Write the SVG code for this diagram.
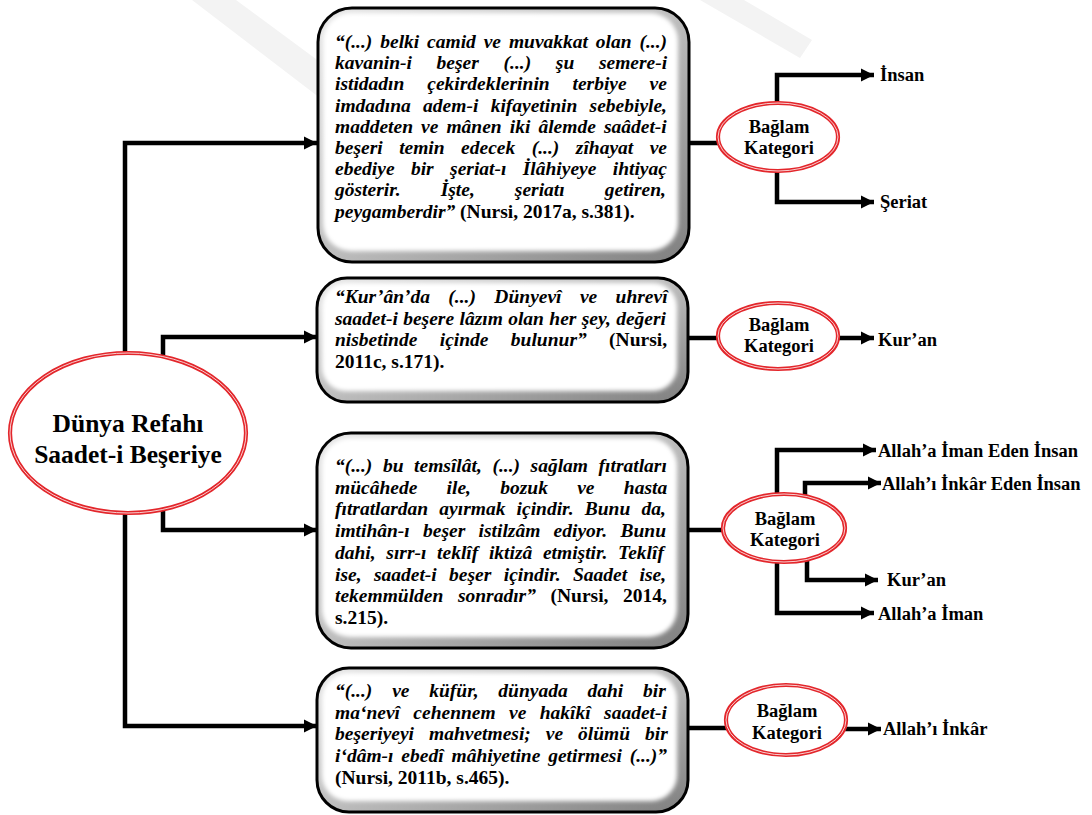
<svg xmlns="http://www.w3.org/2000/svg" width="1092" height="815" viewBox="0 0 1092 815">
  <defs>
    <style>
      .quote { font-family: "Liberation Serif", "Times New Roman", serif; font-size: 19.5px; font-weight: bold; fill: #000; }
      .it { font-style: italic; }
      .lbl { font-family: "Liberation Serif", "Times New Roman", serif; font-size: 18.5px; font-weight: bold; fill: #000; }
      .title { font-family: "Liberation Serif", "Times New Roman", serif; font-size: 25.5px; font-weight: bold; fill: #000; }
      .frame { fill: url(#bevel); stroke: #000; stroke-width: 3; }
      .face { fill: #fff; filter: url(#soft); }
      .ring { fill: #fff; stroke: #e3262b; stroke-width: 4.2; }
      .ring-gap { fill: none; stroke: #fbe3e3; stroke-width: 0.9; }
      .wire { fill: none; stroke: #000; stroke-width: 4.5; }
      .arrow { marker-end: url(#head); }
      .mark { fill: #f3f3f3; }
    </style>
    <linearGradient id="bevel" x1="0" y1="0" x2="1" y2="1">
      <stop offset="0" stop-color="#e8e8e8"/>
      <stop offset="0.5" stop-color="#bdbdbd"/>
      <stop offset="1" stop-color="#7f7f7f"/>
    </linearGradient>
    <filter id="soft" x="-5%" y="-5%" width="110%" height="110%">
      <feGaussianBlur stdDeviation="2.2"/>
    </filter>
    <marker id="head" markerUnits="userSpaceOnUse" markerWidth="14" markerHeight="14" viewBox="0 0 14 14" refX="13" refY="7" orient="auto">
      <path d="M0,0.5 L13,7 L0,13.5 Z" fill="#000"/>
    </marker>
  </defs>

  <rect width="1092" height="815" fill="#fff"/>

  <!-- faint background watermark bands -->
  <g id="watermark">
    <polygon class="mark" points="192,0 236,0 320,62 320,98"/>
    <polygon class="mark" points="700,0 744,0 812,40 800,58"/>
  </g>

  <!-- connectors -->
  <g id="connectors">
    <path class="wire arrow" d="M125,352 V143 H317"/>
    <path class="wire arrow" d="M125,514 V726 H317"/>
    <path class="wire arrow" d="M163,357 V337 H317"/>
    <path class="wire arrow" d="M163,509 V530 H317"/>

    <path class="wire" d="M688,143 H718"/>
    <path class="wire" d="M687,338 H719"/>
    <path class="wire" d="M687,530 H724"/>
    <path class="wire" d="M687,728 H727"/>

    <path class="wire arrow" d="M777,103 V75 H874"/>
    <path class="wire arrow" d="M777,171 V202 H874"/>

    <path class="wire arrow" d="M838,338 H874"/>

    <path class="wire arrow" d="M777,495 V450 H876"/>
    <path class="wire arrow" d="M805,497 V483 H881"/>
    <path class="wire arrow" d="M807,561 V580 H878"/>
    <path class="wire arrow" d="M777,563 V613 H874"/>

    <path class="wire arrow" d="M845,729 H881"/>
  </g>

  <!-- central node -->
  <g id="node-center">
    <ellipse class="ring" cx="128" cy="433" rx="118" ry="80"/>
    <ellipse class="ring-gap" cx="128" cy="433" rx="118" ry="80"/>
    <text class="title" x="128" y="432" text-anchor="middle">Dünya Refahı</text>
    <text class="title" x="128" y="463" text-anchor="middle">Saadet-i Beşeriye</text>
  </g>

  <!-- quotation boxes -->
  <g id="box-1">
    <rect class="frame" x="318" y="8" width="371" height="254" rx="34"/>
    <rect class="face" x="323" y="13" width="355" height="238" rx="28"/>
    <text class="quote it" x="335" y="48" style="word-spacing:3px">“(...) belki camid ve muvakkat olan (...)</text>
    <text class="quote it" x="335" y="69.2" style="word-spacing:19.8px">kavanin-i beşer (...) şu semere-i</text>
    <text class="quote it" x="335" y="90.4" style="word-spacing:18px">istidadın çekirdeklerinin terbiye ve</text>
    <text class="quote it" x="335" y="111.6" style="word-spacing:7.4px">imdadına adem-i kifayetinin sebebiyle,</text>
    <text class="quote it" x="335" y="132.8" style="word-spacing:3.2px">maddeten ve mânen iki âlemde saâdet-i</text>
    <text class="quote it" x="335" y="154" style="word-spacing:11.6px">beşeri temin edecek (...) zîhayat ve</text>
    <text class="quote it" x="335" y="175.2" style="word-spacing:11.5px">ebediye bir şeriat-ı İlâhiyeye ihtiyaç</text>
    <text class="quote it" x="335" y="196.4" style="word-spacing:35.2px">gösterir. İşte, şeriatı getiren,</text>
    <text class="quote" x="335" y="217.6"><tspan class="it">peygamberdir”</tspan> (Nursi, 2017a, s.381).</text>
  </g>

  <g id="box-2">
    <rect class="frame" x="317" y="278" width="371" height="124" rx="30"/>
    <rect class="face" x="322" y="283" width="355" height="108" rx="24"/>
    <text class="quote it" x="335" y="303" style="word-spacing:13.5px">“Kur’ân’da (...) Dünyevî ve uhrevî</text>
    <text class="quote it" x="335" y="324.7" style="word-spacing:0.5px">saadet-i beşere lâzım olan her şey, değeri</text>
    <text class="quote" x="335" y="346.4" style="word-spacing:17.5px"><tspan class="it">nisbetinde içinde bulunur”</tspan> (Nursi,</text>
    <text class="quote" x="335" y="368">2011c, s.171).</text>
  </g>

  <g id="box-3">
    <rect class="frame" x="317" y="433" width="371" height="215" rx="34"/>
    <rect class="face" x="322" y="438" width="355" height="199" rx="28"/>
    <text class="quote it" x="335" y="472" style="word-spacing:5.7px">“(...) bu temsîlât, (...) sağlam fıtratları</text>
    <text class="quote it" x="335" y="493.7" style="word-spacing:24.4px">mücâhede ile, bozuk ve hasta</text>
    <text class="quote it" x="335" y="515.4" style="word-spacing:6.3px">fıtratlardan ayırmak içindir. Bunu da,</text>
    <text class="quote it" x="335" y="537.1" style="word-spacing:8.4px">imtihân-ı beşer istilzâm ediyor. Bunu</text>
    <text class="quote it" x="335" y="558.8" style="word-spacing:5.8px">dahi, sırr-ı teklîf iktizâ etmiştir. Teklîf</text>
    <text class="quote it" x="335" y="580.5" style="word-spacing:7.5px">ise, saadet-i beşer içindir. Saadet ise,</text>
    <text class="quote" x="335" y="602.2" style="word-spacing:9.7px"><tspan class="it">tekemmülden sonradır”</tspan> (Nursi, 2014,</text>
    <text class="quote" x="335" y="624">s.215).</text>
  </g>

  <g id="box-4">
    <rect class="frame" x="317" y="668" width="371" height="144" rx="32"/>
    <rect class="face" x="322" y="673" width="355" height="128" rx="26"/>
    <text class="quote it" x="335" y="697" style="word-spacing:14.9px">“(...) ve küfür, dünyada dahi bir</text>
    <text class="quote it" x="335" y="718.7" style="word-spacing:8.5px">ma‘nevî cehennem ve hakîkî saadet-i</text>
    <text class="quote it" x="335" y="740.4" style="word-spacing:10.1px">beşeriyeyi mahvetmesi; ve ölümü bir</text>
    <text class="quote it" x="335" y="762.1" style="word-spacing:3px">i‘dâm-ı ebedî mâhiyetine getirmesi (...)”</text>
    <text class="quote" x="335" y="783.8">(Nursi, 2011b, s.465).</text>
  </g>

  <!-- context category nodes -->
  <g id="context-1">
    <ellipse class="ring" cx="778" cy="137" rx="60" ry="34"/>
    <ellipse class="ring-gap" cx="778" cy="137" rx="60" ry="34"/>
    <text class="lbl" x="779" y="133" text-anchor="middle">Bağlam</text>
    <text class="lbl" x="779" y="154" text-anchor="middle">Kategori</text>
  </g>
  <g id="context-2">
    <ellipse class="ring" cx="778" cy="336" rx="60" ry="33"/>
    <ellipse class="ring-gap" cx="778" cy="336" rx="60" ry="33"/>
    <text class="lbl" x="779" y="331" text-anchor="middle">Bağlam</text>
    <text class="lbl" x="779" y="352" text-anchor="middle">Kategori</text>
  </g>
  <g id="context-3">
    <ellipse class="ring" cx="784" cy="528" rx="61" ry="34"/>
    <ellipse class="ring-gap" cx="784" cy="528" rx="61" ry="34"/>
    <text class="lbl" x="785" y="525" text-anchor="middle">Bağlam</text>
    <text class="lbl" x="785" y="546" text-anchor="middle">Kategori</text>
  </g>
  <g id="context-4">
    <ellipse class="ring" cx="786" cy="720" rx="60" ry="35"/>
    <ellipse class="ring-gap" cx="786" cy="720" rx="60" ry="35"/>
    <text class="lbl" x="787" y="717" text-anchor="middle">Bağlam</text>
    <text class="lbl" x="787" y="739" text-anchor="middle">Kategori</text>
  </g>

  <!-- category labels -->
  <g id="label-insan"><text class="lbl" x="880" y="81">İnsan</text></g>
  <g id="label-seriat"><text class="lbl" x="880" y="208">Şeriat</text></g>
  <g id="label-kuran-1"><text class="lbl" x="878" y="346">Kur’an</text></g>
  <g id="label-iman-eden"><text class="lbl" x="878" y="457">Allah’a İman Eden İnsan</text></g>
  <g id="label-inkar-eden"><text class="lbl" x="882" y="490">Allah’ı İnkâr Eden İnsan</text></g>
  <g id="label-kuran-2"><text class="lbl" x="887" y="586">Kur’an</text></g>
  <g id="label-iman"><text class="lbl" x="878" y="620">Allah’a İman</text></g>
  <g id="label-inkar"><text class="lbl" x="883" y="735">Allah’ı İnkâr</text></g>
</svg>
